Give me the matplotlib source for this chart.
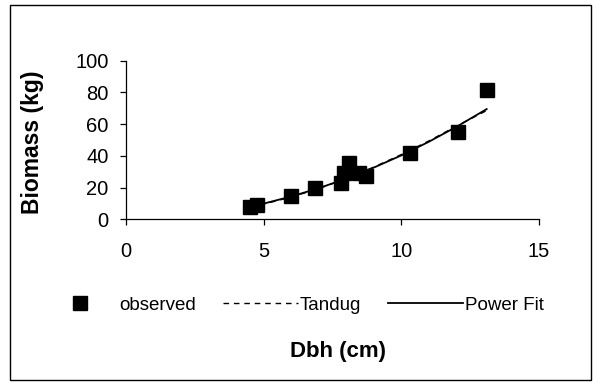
import matplotlib
matplotlib.use("Agg")
import matplotlib.pyplot as plt
from matplotlib.patches import Rectangle
from matplotlib.lines import Line2D

plt.rcParams['font.family'] = ['Liberation Sans', 'DejaVu Sans']

# Observed data
dbh = [4.5, 4.77, 6.0, 6.87, 7.8, 7.9, 8.1, 8.45, 8.7, 10.3, 12.04, 13.1]
biomass = [7.8, 9.0, 14.7, 19.7, 22.9, 29.0, 35.5, 29.0, 27.3, 42.0, 55.0, 81.6]

# Fitted curves
fit_x = [4.5, 5, 6, 7, 8, 9, 10, 11, 12, 13.1]
power_y = [8.0, 9.9, 14.4, 19.6, 25.7, 32.6, 40.3, 48.9, 58.3, 69.5]
tandug_y = [7.6, 9.6, 14.0, 19.4, 25.6, 32.9, 40.8, 49.4, 58.7, 68.6]

xticks = [0, 5, 10, 15]
yticks = [0, 20, 40, 60, 80, 100]

W, H = 593, 382
fig = plt.figure(figsize=(W / 100, H / 100), dpi=100)
ax = fig.add_axes([126 / W, 1 - 219.3 / H, (539 - 126) / W, (219.3 - 60.7) / H])

ax.plot(fit_x, tandug_y, color='black', lw=1.0, dashes=(4, 3.5))
ax.plot(fit_x, power_y, color='black', lw=1.3)
ax.plot(dbh, biomass, linestyle='none', marker='s', ms=9.5, color='black')

ax.set_xlim(0, 15)
ax.set_ylim(0, 100)
ax.set_xticks(xticks)
ax.set_yticks(yticks)
for s in ['top', 'right']:
    ax.spines[s].set_visible(False)
for s in ['left', 'bottom']:
    ax.spines[s].set_linewidth(0.9)
ax.tick_params(axis='both', direction='out', length=4.5, width=0.9, labelsize=14.5)
ax.tick_params(axis='x', pad=12)
ax.tick_params(axis='y', pad=8)

# Legend
handles = [
    Line2D([], [], linestyle='none', marker='s', ms=9.5, color='black'),
    Line2D([], [], color='black', lw=1.0, dashes=(4, 3.5)),
    Line2D([], [], color='black', lw=1.3),
]
labels = ['observed', 'Tandug', 'Power Fit']
fig.legend(handles, labels, loc='center', bbox_to_anchor=(293 / W, 1 - 305 / H),
           ncol=3, frameon=False, fontsize=13.5, handlelength=4.0,
           handletextpad=0.1, columnspacing=1.45)

fig.text(33 / W, 1 - 142 / H, 'Biomass (kg)', rotation=90, ha='center', va='center',
         fontsize=16.5, fontweight='bold')
fig.text(338 / W, 1 - 352 / H, 'Dbh (cm)', ha='center', va='center',
         fontsize=16, fontweight='bold')

fig.patches.append(Rectangle((10 / W, 1 - 380 / H), (591 - 10) / W, (380 - 5) / H,
                             transform=fig.transFigure, fill=False,
                             edgecolor='black', lw=1.0))

fig.savefig('out.png', dpi=100)
